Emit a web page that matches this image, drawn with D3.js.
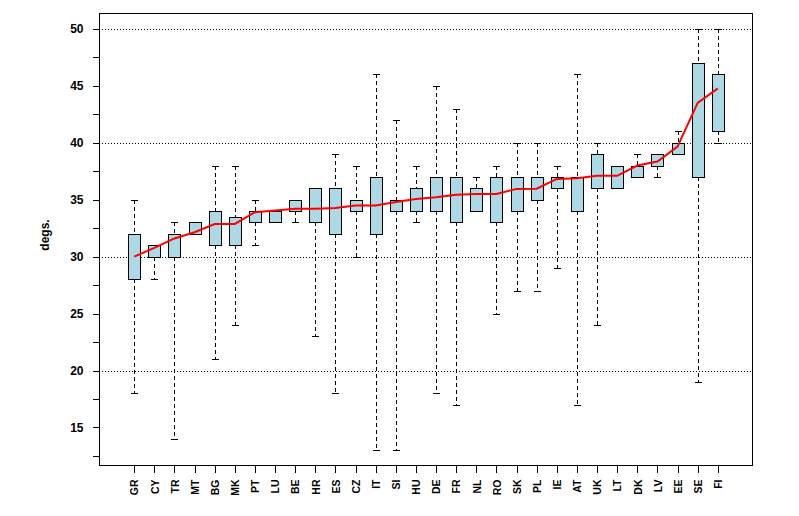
<!DOCTYPE html>
<html>
<head>
<meta charset="utf-8">
<script src="https://cdn.jsdelivr.net/npm/d3@7"></script>
<style>
  body { margin: 0; background: #fff; }
  text { font-family: "Liberation Sans", Arial, sans-serif; font-weight: bold; font-size: 12px; }
</style>
</head>
<body>
<div id="chart"></div>
<script>
// countries, sorted by the red trend line
const countries = ["GR","CY","TR","MT","BG","MK","PT","LU","BE","HR","ES","CZ","IT","SI","HU",
                   "DE","FR","NL","RO","SK","PL","IE","AT","UK","LT","DK","LV","EE","SE","FI"]
// box stats (degs.)
const lowWhisker  = [18,28,14,32,21,24,31,33,33,23,18,30,13,13,33,18,17,34,25,27,27,29,17,24,36,37,37,39,19,40]
const lowerQ      = [28,30,30,32,31,31,33,33,34,33,32,34,32,34,34,34,33,34,33,34,35,36,34,36,36,37,38,39,37,41]
const upperQ      = [32,31,32,33,34,33.5,34,34,35,36,36,35,37,35,36,37,37,36,37,37,37,37,37,39,38,38,39,40,47,46]
const highWhisker = [35,31,33,33,38,38,35,34,35,36,39,38,46,42,38,45,43,37,38,40,40,38,46,40,38,39,39,41,50,50]
// red line
const trend = [30,30.77,31.6,32.14,32.87,32.87,33.9,34.05,34.2,34.2,34.28,34.49,34.49,34.8,35.07,
               35.22,35.43,35.5,35.5,35.95,35.97,36.83,36.88,37.1,37.1,38.0,38.36,39.67,43.5,44.78]

const yTicks = d3.range(12.5, 50.01, 2.5)
const yLabels = [15,20,25,30,35,40,45,50]
const gridVals = [20,30,40,50]

let width = 799
let height = 516
let plot = {left: 99, right: 752, top: 13, bottom: 465}
let boxWidth = 12
let capWidth = 7

let svg = d3.select("#chart").append("svg")
  .attr("width", width)
  .attr("height", height)

let x = d3.scaleLinear().domain([-1.75, 30.7]).range([plot.left, plot.right])
let y = d3.scaleLinear().domain([11.7, 51.4]).range([plot.bottom, plot.top])

// dotted grid
svg.append("g").selectAll("line")
  .data(gridVals)
  .enter().append("line")
  .attr("x1", plot.left).attr("x2", plot.right)
  .attr("y1", d => Math.round(y(d)) + 0.5).attr("y2", d => Math.round(y(d)) + 0.5)
  .attr("stroke", "#000").attr("stroke-dasharray", "1,2")
  .attr("shape-rendering", "crispEdges")

let data = countries.map((c, i) => ({
  name: c, i: i, lo: lowWhisker[i], q1: lowerQ[i], q3: upperQ[i], hi: highWhisker[i]
}))

let px = d => Math.round(x(d.i)) + 0.5

let boxes = svg.append("g").selectAll("g")
  .data(data)
  .enter().append("g")
  .attr("shape-rendering", "crispEdges")

// whiskers
boxes.filter(d => d.hi > d.q3).append("line")
  .attr("x1", px).attr("x2", px)
  .attr("y1", d => y(d.hi)).attr("y2", d => y(d.q3))
  .attr("stroke", "#000").attr("stroke-dasharray", "4,3")
boxes.filter(d => d.lo < d.q1).append("line")
  .attr("x1", px).attr("x2", px)
  .attr("y1", d => y(d.q1)).attr("y2", d => y(d.lo))
  .attr("stroke", "#000").attr("stroke-dasharray", "4,3")
// caps
boxes.filter(d => d.hi > d.q3).append("line")
  .attr("x1", d => px(d) - capWidth / 2).attr("x2", d => px(d) + capWidth / 2)
  .attr("y1", d => Math.round(y(d.hi)) + 0.5).attr("y2", d => Math.round(y(d.hi)) + 0.5)
  .attr("stroke", "#000")
boxes.filter(d => d.lo < d.q1).append("line")
  .attr("x1", d => px(d) - capWidth / 2).attr("x2", d => px(d) + capWidth / 2)
  .attr("y1", d => Math.round(y(d.lo)) + 0.5).attr("y2", d => Math.round(y(d.lo)) + 0.5)
  .attr("stroke", "#000")
// box
boxes.append("rect")
  .attr("x", d => Math.round(x(d.i) - boxWidth / 2) + 0.5)
  .attr("y", d => Math.round(y(d.q3)) + 0.5)
  .attr("width", boxWidth)
  .attr("height", d => Math.round(y(d.q1)) - Math.round(y(d.q3)))
  .attr("fill", "lightblue")
  .attr("stroke", "#000")

// red trend line
svg.append("path")
  .datum(trend)
  .attr("d", d3.line().x((d, i) => x(i)).y(d => y(d)))
  .attr("fill", "none")
  .attr("stroke", "red")
  .attr("stroke-width", 2)

// frame
svg.append("rect")
  .attr("x", plot.left + 0.5).attr("y", plot.top + 0.5)
  .attr("width", plot.right - plot.left).attr("height", plot.bottom - plot.top)
  .attr("fill", "none").attr("stroke", "#000")
  .attr("shape-rendering", "crispEdges")

// y axis
let yAxis = d3.axisLeft(y)
  .tickValues(yTicks)
  .tickSize(7)
  .tickPadding(9)
  .tickFormat(d => yLabels.includes(d) ? d : "")
let gy = svg.append("g")
  .attr("transform", "translate(" + (plot.left + 0.5) + ",0)")
  .call(yAxis)
gy.select(".domain").remove()
gy.selectAll("line").attr("shape-rendering", "crispEdges")
gy.selectAll("text").style("font-size", "12px").style("font-family", "Liberation Sans, Arial, sans-serif").attr("font-weight", "bold")

// x axis
let xAxis = d3.axisBottom(x)
  .tickValues(d3.range(countries.length))
  .tickSize(7)
  .tickFormat(i => countries[i])
let gx = svg.append("g")
  .attr("transform", "translate(0," + (plot.bottom + 0.5) + ")")
  .call(xAxis)
gx.select(".domain").remove()
gx.selectAll("line").attr("shape-rendering", "crispEdges")
gx.selectAll("text")
  .style("font-size", "10.5px").style("font-family", "'Liberation Sans Narrow', 'Liberation Sans', Arial, sans-serif").attr("font-weight", "bold")
  .attr("text-anchor", "end")
  .attr("transform", "rotate(-90)")
  .attr("x", -14).attr("y", 0).attr("dy", "0.36em")

// axis title
svg.append("text")
  .attr("text-anchor", "middle")
  .attr("transform", "translate(49," + 235 + ")rotate(-90)")
  .text("degs.")
</script>
</body>
</html>
